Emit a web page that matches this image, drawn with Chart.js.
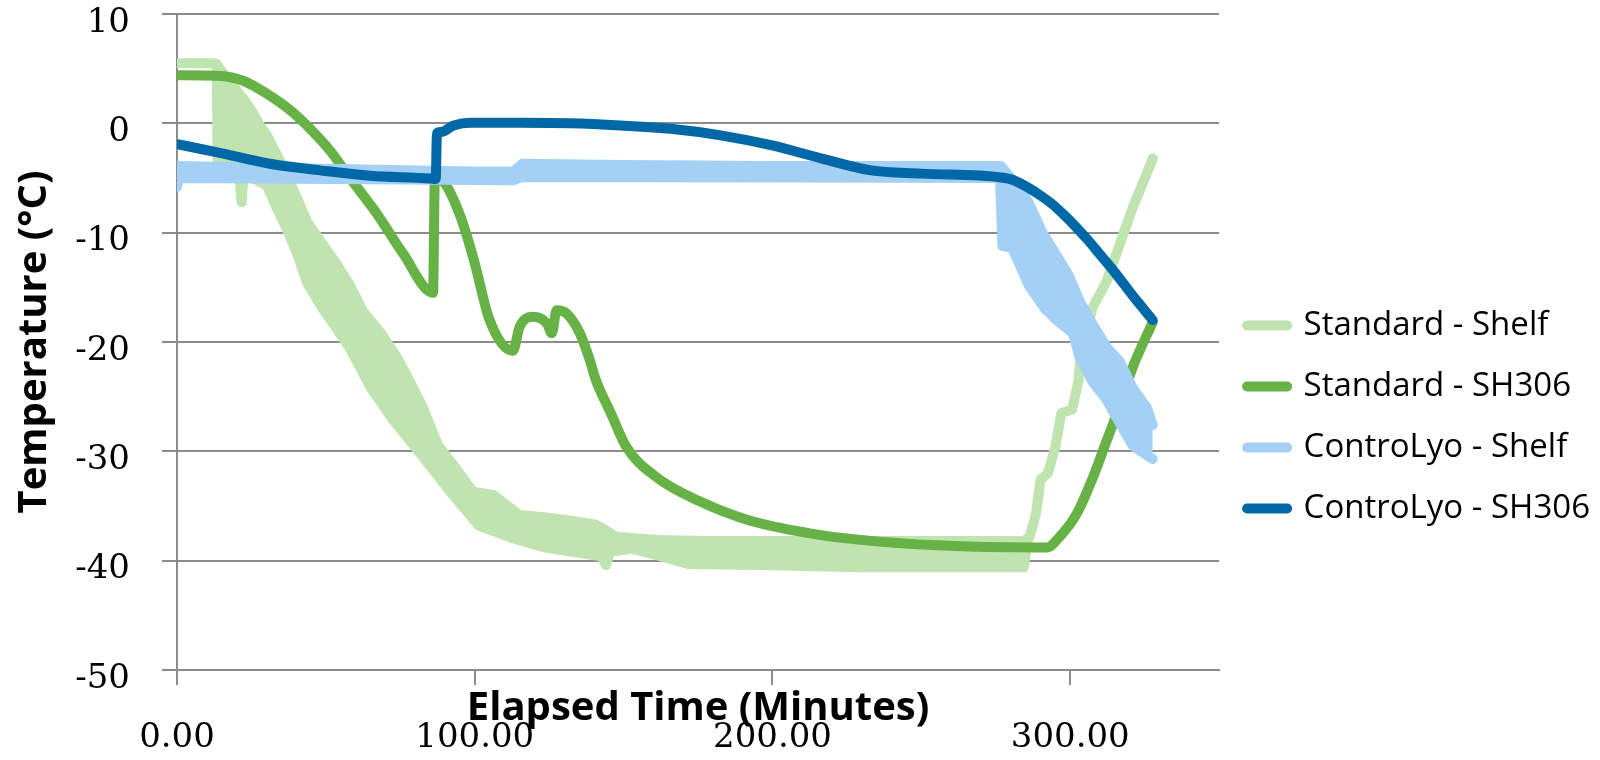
<!DOCTYPE html>
<html lang="en">
<head>
  <meta charset="UTF-8" />
  <title>Temperature vs Elapsed Time</title>
  <script src="https://cdn.jsdelivr.net/npm/chart.js"></script>
  <style>
    body { margin: 0; background: #fff; }
    #wrap { width: 1600px; height: 760px; }
  </style>
</head>
<body>
  <div id="wrap"><canvas id="myChart"></canvas></div>

  <script>
    // labels
    const seriesNames = ['Standard - Shelf', 'Standard - SH306', 'ControLyo - Shelf', 'ControLyo - SH306'];
    const xTitle = 'Elapsed Time (Minutes)';
    const yTitle = 'Temperature (°C)';
    const xTicks = [0, 100, 200, 300];
    const yTicks = [10, 0, -10, -20, -30, -40, -50];

    // [minutes, °C]
    // shelf traces oscillate fast, so they are kept as a top and a bottom edge
    const stdShelfTop = [[0,5.5],[12.5,5.5],[13.4,5.4],[16.8,4.1],[22.2,2.3],[24.5,1.4],[27.9,-0.2],[30.2,-1.1],[33.6,-2.9],[36.9,-4.7],[40.3,-6.8],[43.7,-9.0],[49,-11.1],[53.7,-12.9],[58.1,-14.8],[62.5,-17.2],[68.2,-19.1],[73.9,-21.4],[78.2,-23.6],[82.6,-26.0],[87.6,-29.4],[92.7,-31.2],[99.4,-33.7],[106.4,-34.0],[114.8,-35.8],[125.3,-36.1],[133.6,-36.4],[140.7,-36.7],[147.4,-37.8],[161.2,-38.1],[178.3,-38.2],[284.4,-38.2],[286.4,-37.8],[288.5,-35.7],[290,-32.6],[292.5,-32.0],[295,-29.6],[297,-26.5],[300.6,-26.2],[302.8,-23.5],[303.5,-21.0],[307.6,-16.8],[312.3,-14.4],[316.7,-11.0],[321,-7.7],[325.7,-4.6],[327.7,-3.2]];
    const stdShelfBottom = [[13.4,5.4],[13.6,-3.9],[20.8,-4.4],[21.7,-7.2],[22.4,-4.6],[30.2,-5.7],[33.6,-7.8],[36.9,-9.7],[40.3,-11.9],[43.7,-14.6],[49,-17.0],[53.7,-18.8],[58.1,-20.6],[65.1,-24.2],[72.2,-27.0],[82.3,-30.4],[92.7,-34.0],[101.4,-36.8],[113.2,-38.0],[123.6,-38.8],[135.7,-39.3],[142.5,-39.6],[144.1,-40.4],[145.5,-39.2],[152.8,-38.9],[161.2,-39.5],[171.6,-40.3],[195.4,-40.4],[229.7,-40.6],[284.4,-40.6],[285.8,-38.0]];
    const stdProbe = [[0,4.4],[13.4,4.35],[22.2,3.9],[30.2,2.7],[38,1.2],[44.7,-0.5],[51.4,-2.5],[58.1,-5.0],[67.2,-8.3],[75.9,-11.9],[86.0,-15.5],[86.6,-5.1],[88.3,-5.2],[90,-5.5],[95.3,-8.6],[99.7,-12.5],[105,-18.0],[112.8,-20.8],[115.1,-18.6],[119.5,-17.7],[124.2,-18.3],[125.9,-19.2],[127.5,-17.1],[130.9,-17.4],[135.3,-19.2],[138.7,-21.7],[140.7,-23.5],[145.7,-26.5],[150.9,-29.6],[161.2,-32.4],[175,-34.5],[192,-36.3],[212.6,-37.5],[229.7,-38.1],[255.5,-38.6],[288.1,-38.8],[292.1,-38.8],[296.5,-37.8],[302.2,-35.7],[307.6,-32.4],[312,-29.2],[316,-26.3],[321,-22.3],[327.7,-18.2]];
    const ctlShelfTop = [[0,-5.8],[0.4,-3.9],[40,-4.1],[100,-4.4],[113,-4.4],[116,-3.7],[150,-3.8],[200,-3.9],[262,-3.9],[276.7,-3.9],[281.4,-5.4],[286,-7.2],[290.5,-9.9],[294.8,-11.8],[299.5,-13.9],[303.2,-16.3],[307.6,-18.4],[312.3,-20.5],[316.7,-21.8],[321,-24.2],[325.7,-26.0],[327.7,-27.6]];
    const ctlShelfBottom = [[0,-5.8],[0.6,-5.0],[113,-5.2],[116,-4.9],[276.4,-5.0],[277.2,-11.2],[280.5,-11.4],[286.2,-14.9],[291.6,-17.0],[295,-17.9],[300.9,-19.2],[303.2,-21.5],[307.6,-23.7],[312,-25.2],[317.6,-27.9],[321,-29.5],[327.7,-30.7]];
    const ctlProbe = [[0,-1.9],[14.4,-2.7],[31.2,-3.7],[48,-4.3],[64.8,-4.8],[85,-5.05],[86.9,-5.1],[87.3,-0.9],[88.6,-0.8],[92.9,-0.2],[98.6,0.05],[115.4,0.05],[132.2,0],[149,-0.2],[165.8,-0.5],[182.6,-1.1],[199.5,-2.0],[216.3,-3.2],[233.1,-4.3],[250,-4.6],[276.7,-4.95],[281,-5.2],[286,-5.9],[290,-6.6],[294,-7.4],[298,-8.4],[302,-9.5],[306,-10.7],[310,-12.0],[314,-13.3],[318,-14.7],[322,-16.1],[325,-17.1],[327.7,-18.0]];

    const colors = ['#c0e4b0', '#67b247', '#a4d0f6', '#0068a6'];
    const gridColor = '#8c8c8c';
    const lineW = 10;

    function series(label, pts, color, order, extra) {
      return Object.assign({
        label: label,
        data: pts.map(p => ({ x: p[0], y: p[1] })),
        borderColor: color,
        backgroundColor: color,
        borderWidth: lineW,
        pointRadius: 0,
        pointHoverRadius: 0,
        borderCapStyle: 'round',
        borderJoinStyle: 'round',
        tension: 0,
        fill: false,
        order: order
      }, extra || {});
    }

    // x axis title sits between the axis and the tick labels, as in the original
    const xTitlePlugin = {
      id: 'xTitle',
      afterDraw(chart) {
        const { ctx, chartArea } = chart;
        ctx.save();
        ctx.font = 'bold 40px "Open Sans"';
        ctx.fillStyle = '#000';
        ctx.textAlign = 'center';
        ctx.textBaseline = 'alphabetic';
        ctx.fillText(xTitle, (chartArea.left + chartArea.right) / 2, chartArea.bottom + 50);
        ctx.restore();
      }
    };

    const ctx = document.getElementById('myChart').getContext('2d');

    const chart = new Chart(ctx, {
      type: 'line',
      data: {
        datasets: [
          series(seriesNames[0], stdShelfTop, colors[0], 40),
          series(seriesNames[1], stdProbe, colors[1], 30, { cubicInterpolationMode: 'monotone' }),
          series(seriesNames[2], ctlShelfTop, colors[2], 20),
          series(seriesNames[3], ctlProbe, colors[3], 10, { cubicInterpolationMode: 'monotone' }),
          series('', stdShelfBottom, colors[0], 41, { fill: 0 }),
          series('', ctlShelfBottom, colors[2], 21, { fill: 2 })
        ]
      },
      options: {
        responsive: true,
        maintainAspectRatio: false,
        animation: false,
        events: [],
        layout: { padding: { top: 14, right: 0, bottom: 0, left: 0 } },
        scales: {
          x: {
            type: 'linear',
            min: 0,
            max: 350,
            afterFit: s => { s.height = 90; },
            afterBuildTicks: s => { s.ticks = xTicks.map(v => ({ value: v })); },
            ticks: {
              padding: 40,
              color: '#000',
              font: { family: 'DejaVu Serif', size: 34, lineHeight: 0.8 },
              callback: v => v.toFixed(2)
            },
            grid: { drawOnChartArea: false, drawTicks: true, tickLength: 15, color: gridColor, lineWidth: 2 },
            border: { display: true, color: gridColor, width: 2 }
          },
          y: {
            min: -50,
            max: 10,
            afterFit: s => { s.width = 177; s.paddingTop = 0; s.paddingBottom = 0; },
            afterBuildTicks: s => { s.ticks = yTicks.map(v => ({ value: v })); },
            ticks: {
              padding: 32,
              labelOffset: 9,
              color: '#000',
              font: { family: 'DejaVu Serif', size: 34, lineHeight: 0.8 }
            },
            grid: { drawTicks: true, tickLength: 15, color: gridColor, lineWidth: 2 },
            border: { display: true, color: gridColor, width: 2 },
            title: {
              display: true,
              text: yTitle,
              color: '#000',
              padding: { top: 11, bottom: 0 },
              font: { family: 'Open Sans', size: 40, weight: 'bold', lineHeight: 1.2 }
            }
          }
        },
        plugins: {
          tooltip: { enabled: false },
          legend: {
            position: 'right',
            title: { display: true, text: '', padding: 0, font: { size: 60, lineHeight: 1 } },
            labels: {
              usePointStyle: true,
              pointStyle: 'line',
              pointStyleWidth: 40,
              padding: 28,
              color: '#000',
              font: { family: 'Open Sans', size: 33 },
              generateLabels: c => c.data.datasets.slice(0, 4).map((ds, i) => ({
                text: ds.label,
                datasetIndex: i,
                fillStyle: ds.borderColor,
                strokeStyle: ds.borderColor,
                lineWidth: lineW,
                lineCap: 'round',
                pointStyle: 'line',
                hidden: false,
                fontColor: '#000'
              }))
            }
          }
        }
      },
      plugins: [xTitlePlugin]
    });
  </script>
</body>
</html>
